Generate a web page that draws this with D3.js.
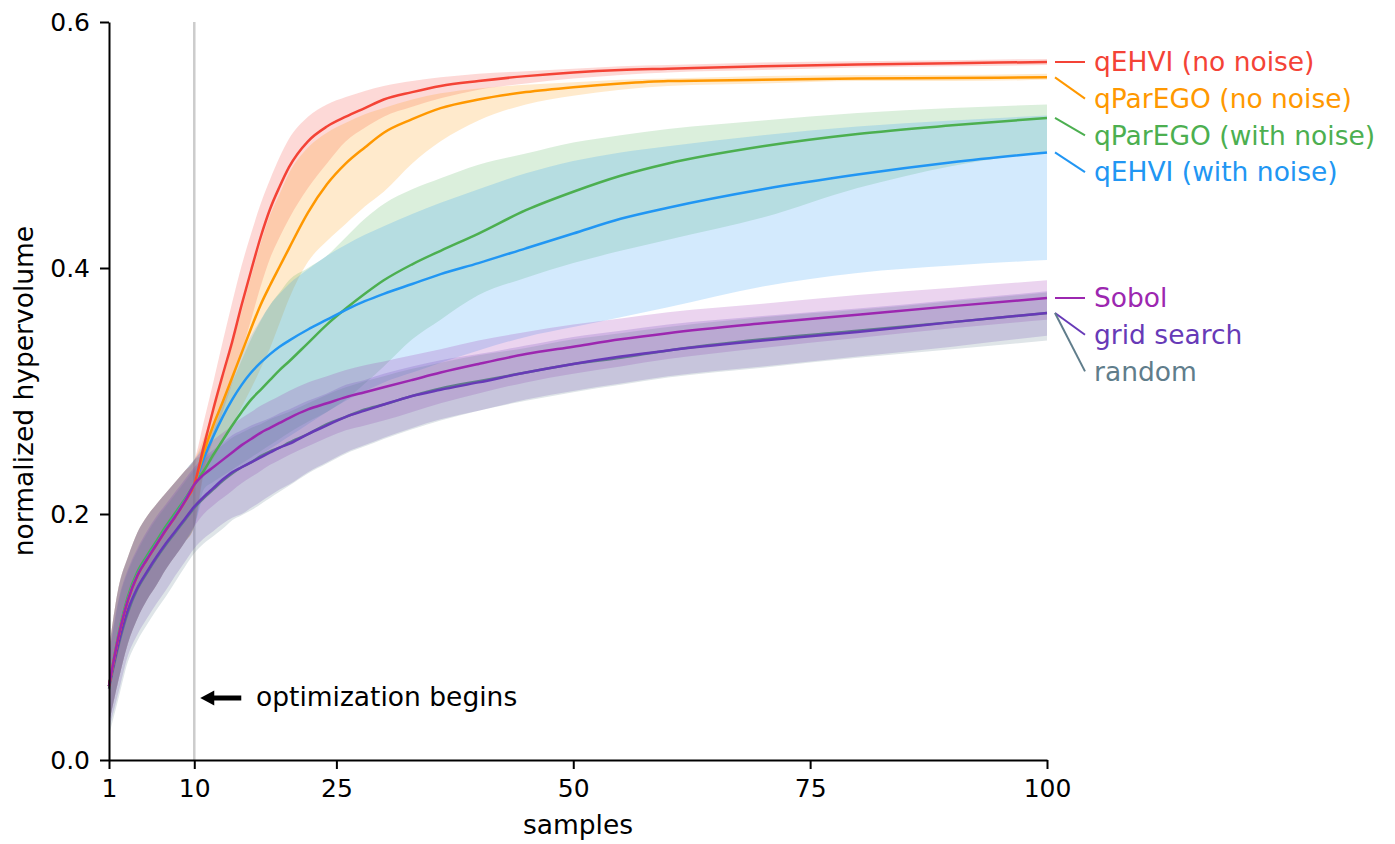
<!DOCTYPE html>
<html>
<head>
<meta charset="utf-8">
<script src="https://cdn.jsdelivr.net/npm/d3@7"></script>
<style>
  html, body { margin: 0; padding: 0; background: #fff; }
  svg { display: block; font-family: "DejaVu Sans", sans-serif; }
</style>
</head>
<body>
<svg id="chart" width="1395" height="844"></svg>
<script>
// ---------------- data ----------------
const samples = [1,2,3,4,5,6,7,8,9,10,11,12,13,14,15,16,17,18,19,20,22,24,26,28,30,33,36,40,45,50,55,60,70,80,90,100];

const seriesNames = ["qEHVI (no noise)", "qParEGO (no noise)", "qParEGO (with noise)", "qEHVI (with noise)", "Sobol", "grid search", "random"];
const seriesColors = ["#f44336", "#ff9800", "#4caf50", "#2196f3", "#9c27b0", "#673ab7", "#607d8b"];

const qehviNoNoise      = [.06,.10,.13,.15,.163,.175,.187,.198,.21,.224, .255,.285,.313,.34,.37,.398,.425,.448,.466,.482, .503,.515,.523,.530,.537,.543,.548,.552,.556,.559,.561,.562,.564,.5655,.5665,.5675];
const qehviNoNoiseHi    = [.09,.14,.165,.185,.198,.208,.217,.226,.235,.244, .275,.307,.34,.372,.402,.428,.452,.472,.49,.505, .523,.533,.539,.544,.548,.552,.555,.558,.560,.562,.564,.565,.567,.568,.569,.570];
const qehviNoNoiseLo    = [.03,.065,.095,.115,.13,.142,.155,.166,.177,.19, .235,.26,.283,.306,.332,.358,.385,.408,.425,.44, .465,.485,.503,.514,.523,.531,.538,.545,.55,.554,.557,.559,.561,.563,.564,.565];

const paregoNoNoise     = [.06,.10,.13,.15,.163,.175,.187,.198,.21,.224, .25,.272,.291,.311,.331,.351,.37,.386,.401,.416, .445,.468,.485,.498,.51,.521,.53,.537,.543,.547,.55,.552,.553,.554,.5545,.555];
const paregoNoNoiseHi   = [.09,.14,.165,.185,.198,.208,.217,.226,.235,.244, .262,.285,.31,.337,.365,.393,.42,.443,.46,.477, .498,.51,.518,.525,.53,.537,.542,.546,.549,.551,.553,.554,.556,.557,.557,.558];
const paregoNoNoiseLo   = [.03,.065,.095,.115,.13,.142,.155,.166,.177,.19, .232,.245,.258,.272,.287,.302,.318,.335,.355,.375, .405,.422,.436,.45,.462,.485,.503,.52,.533,.54,.545,.548,.55,.552,.552,.553];

const paregoNoise       = [.06,.102,.133,.153,.166,.178,.19,.201,.212,.224, .235,.248,.26,.272,.283,.293,.301,.309,.317,.324, .339,.354,.367,.379,.39,.403,.414,.428,.447,.462,.475,.485,.499,.509,.516,.522];
const paregoNoiseHi     = [.09,.14,.165,.185,.198,.208,.217,.226,.235,.244, .25,.268,.288,.307,.325,.342,.357,.37,.38,.39, .40,.41,.425,.44,.452,.464,.473,.484,.493,.502,.508,.513,.52,.526,.53,.533];
const paregoNoiseLo     = [.03,.065,.095,.115,.13,.142,.155,.166,.177,.19, .22,.226,.231,.236,.241,.246,.251,.256,.261,.266, .275,.283,.293,.306,.32,.342,.358,.378,.392,.404,.414,.423,.441,.465,.483,.495];

const qehviNoise        = [.06,.101,.131,.151,.164,.176,.188,.199,.211,.224, .245,.263,.279,.293,.305,.315,.323,.33,.336,.341, .35,.358,.366,.373,.379,.387,.395,.404,.416,.428,.44,.449,.464,.476,.486,.494];
const qehviNoiseHi      = [.09,.14,.165,.185,.198,.208,.217,.226,.235,.244, .257,.274,.293,.312,.33,.345,.358,.37,.379,.387, .399,.41,.419,.427,.434,.444,.453,.464,.477,.487,.494,.499,.508,.515,.52,.524];
const qehviNoiseLo      = [.03,.065,.095,.115,.13,.142,.155,.166,.177,.19, .215,.222,.228,.233,.238,.243,.248,.253,.258,.263, .273,.283,.292,.30,.307,.315,.323,.333,.344,.352,.36,.368,.385,.396,.402,.4065];

const sobol             = [.06,.10,.13,.15,.163,.175,.187,.198,.21,.224, .232,.238,.244,.25,.256,.261,.266,.27,.274,.278, .285,.29,.295,.299,.303,.309,.315,.322,.33,.336,.342,.347,.355,.362,.369,.3756];
const sobolHi           = [.09,.14,.165,.185,.198,.208,.217,.226,.235,.244, .253,.26,.266,.272,.278,.283,.288,.292,.296,.30, .307,.312,.317,.321,.324,.329,.334,.341,.348,.354,.359,.364,.371,.378,.384,.390];
const sobolLo           = [.03,.065,.095,.115,.13,.142,.155,.166,.177,.19, .20,.207,.213,.219,.225,.23,.235,.24,.244,.248, .255,.262,.268,.272,.276,.283,.29,.298,.307,.314,.32,.326,.335,.343,.351,.358];

const gridSearch        = [.06,.095,.122,.14,.153,.165,.176,.186,.196,.206, .214,.221,.228,.234,.238,.242,.246,.25,.254,.257, .265,.272,.279,.284,.289,.296,.301,.307,.315,.322,.328,.333,.341,.348,.356,.3634];
const gridSearchHi      = [.085,.13,.155,.172,.186,.198,.208,.218,.228,.238, .246,.252,.258,.264,.268,.272,.275,.278,.282,.285, .292,.298,.305,.309,.314,.32,.325,.33,.337,.344,.349,.354,.361,.367,.374,.381];
const gridSearchLo      = [.025,.055,.085,.102,.115,.127,.138,.15,.161,.172, .18,.186,.192,.197,.20,.205,.21,.215,.22,.224, .234,.242,.25,.256,.262,.27,.277,.284,.293,.30,.306,.312,.32,.328,.336,.345];

const randomSearch      = [.058,.093,.12,.139,.152,.164,.175,.185,.195,.205, .213,.22,.227,.233,.238,.242,.247,.251,.254,.258, .265,.273,.279,.285,.289,.296,.302,.308,.315,.322,.327,.333,.342,.349,.356,.3634];
const randomSearchHi    = [.083,.128,.153,.17,.184,.196,.206,.216,.226,.236, .244,.25,.256,.262,.266,.27,.273,.277,.28,.283, .29,.297,.303,.308,.312,.318,.323,.329,.335,.342,.347,.352,.36,.366,.373,.38];
const randomSearchLo    = [.02,.05,.08,.097,.11,.122,.133,.145,.157,.168, .176,.182,.188,.195,.199,.203,.208,.213,.218,.223, .233,.241,.249,.255,.261,.269,.276,.284,.292,.299,.305,.311,.319,.327,.334,.341];

const xTicks = [1, 10, 25, 50, 75, 100];
const yTicks = [0.0, 0.2, 0.4, 0.6];
const optimizationStart = 10;
const annotationText = "optimization begins";
const xLabel = "samples";
const yLabel = "normalized hypervolume";

// ---------------- build ----------------
(function draw() {
const means = [qehviNoNoise, paregoNoNoise, paregoNoise, qehviNoise, sobol, gridSearch, randomSearch];
const his   = [qehviNoNoiseHi, paregoNoNoiseHi, paregoNoiseHi, qehviNoiseHi, sobolHi, gridSearchHi, randomSearchHi];
const los   = [qehviNoNoiseLo, paregoNoNoiseLo, paregoNoiseLo, qehviNoiseLo, sobolLo, gridSearchLo, randomSearchLo];

const series = seriesNames.map((name, i) => ({
  name, color: seriesColors[i], index: i,
  pts: samples.map((s, j) => ({ x: s, y: means[i][j], lo: los[i][j], hi: his[i][j] }))
}));

const svg = d3.select("#chart");
const TICK_FONT = 25;
const FONT = 26.5;
const pL = 109, pR = 1047, pT = 22, pB = 760;

const x = d3.scaleLinear().domain([1, 100]).range([pL, pR]);
const y = d3.scaleLinear().domain([0, 0.6]).range([pB, pT]);

// vertical marker
svg.append("line")
  .attr("x1", x(optimizationStart)).attr("x2", x(optimizationStart))
  .attr("y1", y(0.6)).attr("y2", y(0))
  .attr("stroke", "#cccccc").attr("stroke-width", 2.5);

const area = d3.area().x(d => x(d.x)).y0(d => y(d.lo)).y1(d => y(d.hi)).curve(d3.curveMonotoneX);
const line = d3.line().x(d => x(d.x)).y(d => y(d.y)).curve(d3.curveMonotoneX);

const bandOrder = [0, 1, 2, 3, 4, 5, 6];
svg.append("g").selectAll("path").data(bandOrder.map(i => series[i])).join("path")
  .attr("d", d => area(d.pts))
  .attr("fill", d => d.color)
  .attr("fill-opacity", 0.2)
  .attr("stroke", "none");

const lineOrder = [6, 5, 2, 3, 1, 0, 4];
svg.append("g").selectAll("path").data(lineOrder.map(i => series[i])).join("path")
  .attr("d", d => line(d.pts))
  .attr("fill", "none")
  .attr("stroke", d => d.color)
  .attr("stroke-width", 2.5)
  .attr("stroke-linejoin", "round");

// axes
const xAxis = d3.axisBottom(x).tickValues(xTicks).tickFormat(d3.format("d"))
  .tickSize(9).tickSizeOuter(0).tickPadding(10);
const yAxis = d3.axisLeft(y).tickValues(yTicks).tickFormat(d3.format(".1f"))
  .tickSize(9).tickSizeOuter(0).tickPadding(10);

const gx = svg.append("g").attr("transform", `translate(0,${pB})`).call(xAxis);
const gy = svg.append("g").attr("transform", `translate(${pL},0)`).call(yAxis);
[gx, gy].forEach(g => {
  g.selectAll("path.domain").attr("stroke", "#000").attr("stroke-width", 2);
  g.selectAll(".tick line").attr("stroke", "#000").attr("stroke-width", 2);
  g.selectAll(".tick text").attr("fill", "#000")
    .style("font-family", "'DejaVu Sans', sans-serif").style("font-size", TICK_FONT + "px");
});

// axis labels
svg.append("text").attr("x", (pL + pR) / 2).attr("y", 834)
  .attr("text-anchor", "middle").style("font-size", FONT + "px").attr("fill", "#000")
  .text(xLabel);
svg.append("text").attr("transform", `translate(33,${(pT + pB) / 2}) rotate(-90)`)
  .attr("text-anchor", "middle").style("font-size", FONT + "px").attr("fill", "#000")
  .text(yLabel);

// annotation arrow
const ay = 698;
const tipX = x(optimizationStart) + 6;
const tailX = tipX + 41;
svg.append("line").attr("x1", tailX).attr("x2", tipX + 12).attr("y1", ay).attr("y2", ay)
  .attr("stroke", "#000").attr("stroke-width", 5);
svg.append("path")
  .attr("d", `M${tipX},${ay} L${tipX + 14},${ay - 7.5} L${tipX + 14},${ay + 7.5} Z`)
  .attr("fill", "#000");
svg.append("text").attr("x", 256).attr("y", ay).attr("dy", "0.3em")
  .style("font-size", FONT + "px").attr("fill", "#000").text(annotationText);

// end labels with simple collision avoidance
const labelGap = 36.7;
const ends = series.map(s => ({ s, yEnd: y(s.pts[s.pts.length - 1].y) }));
const sorted = ends.slice().sort((a, b) => (a.yEnd - b.yEnd) || (a.s.index - b.s.index));
let prev = -Infinity;
sorted.forEach(e => { e.yLab = Math.max(e.yEnd, prev + labelGap); prev = e.yLab; });

const lg = svg.append("g");
sorted.forEach(e => {
  lg.append("line")
    .attr("x1", x(100) + 8).attr("y1", e.yEnd)
    .attr("x2", x(100) + 38).attr("y2", e.yLab)
    .attr("stroke", e.s.color).attr("stroke-width", 2);
  lg.append("text")
    .attr("x", x(100) + 47).attr("y", e.yLab).attr("dy", "0.35em")
    .style("font-size", FONT + "px").attr("fill", e.s.color)
    .text(e.s.name);
});
})();
</script>
</body>
</html>
